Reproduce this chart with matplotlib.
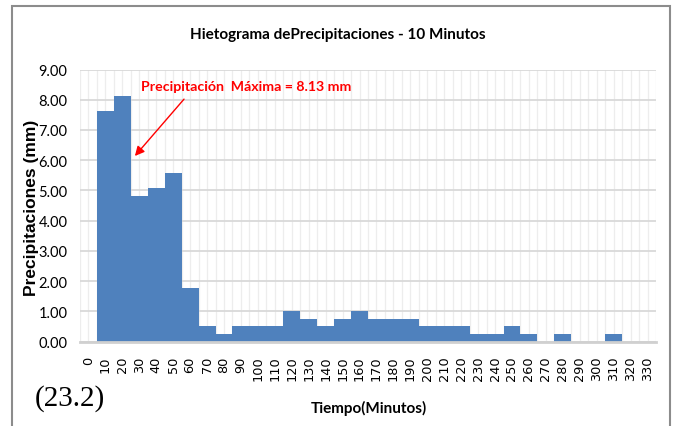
import matplotlib
matplotlib.use("Agg")
import matplotlib.pyplot as plt
from matplotlib.patches import Rectangle
import numpy as np

# Data
tiempo = list(range(0, 340, 10))
precip = [0.00, 7.62, 8.13, 4.83, 5.08, 5.59, 1.78, 0.51, 0.25, 0.51,
          0.51, 0.51, 1.02, 0.76, 0.51, 0.76, 1.02, 0.76, 0.76, 0.76,
          0.51, 0.51, 0.51, 0.25, 0.25, 0.51, 0.25, 0.00, 0.25, 0.00,
          0.00, 0.25, 0.00, 0.00]
tick_labels = [str(t) for t in tiempo]
yticks = [0, 1, 2, 3, 4, 5, 6, 7, 8, 9]

CAL = ['Lato', 'Liberation Sans', 'DejaVu Sans']

fig = plt.figure(figsize=(6.73, 4.27), dpi=100)
ax = fig.add_axes([80/673, 1-342.7/427, (656-80)/673, (342.7-70.5)/427])

pos = np.arange(len(tiempo))
ax.bar(pos, precip, width=1.0, color='#4f81bd', edgecolor='none', zorder=3)

ax.set_xlim(-0.5, len(tiempo) - 0.5)
ax.set_ylim(0, 9)
ax.set_yticks(yticks)
ax.set_yticklabels([f"{v:.2f}" for v in yticks], family=CAL, fontsize=10.5)
ax.set_xticks(pos)
ax.set_xticklabels(tick_labels, rotation=90, family='DejaVu Sans', fontsize=9.3)
ax.set_xticks(np.arange(-0.5, len(tiempo), 1.0), minor=True)
ax.tick_params(axis='both', which='both', length=0)
ax.tick_params(axis='x', pad=10)
ax.tick_params(axis='y', pad=9)

ax.grid(axis='x', which='both', color='#ededed', lw=0.9, zorder=0)
ax.grid(axis='y', which='major', color='#d9d9d9', lw=1.3, zorder=1)

for s in ['top', 'right', 'left']:
    ax.spines[s].set_visible(False)
ax.spines['bottom'].set_color('#d0d0d0')
ax.spines['bottom'].set_linewidth(2)
ax.spines['bottom'].set_zorder(4)

fig.text(338/673, 1-35/427, 'Hietograma dePrecipitaciones - 10 Minutos',
         ha='center', va='center', family=CAL, fontweight='bold', fontsize=11)
fig.text(369/673, 1-408/427, 'Tiempo(Minutos)', ha='center', va='center',
         family=CAL, fontweight='bold', fontsize=11)
fig.text(32/673, 1-208/427, 'Precipitaciones (mm)', ha='center', va='center',
         rotation=90, family=['Liberation Sans', 'DejaVu Sans'], fontweight='bold', fontsize=12.5)
fig.text(70/673, 1-399/427, '(23.2)', ha='center', va='center',
         family=['Liberation Serif', 'DejaVu Serif'], fontsize=21)

ax.annotate('', xy=(2.74, 6.14), xytext=(5.64, 8.02),
            arrowprops=dict(arrowstyle='-|>', color='#ff0000', lw=1.0,
                            mutation_scale=14, shrinkA=0, shrinkB=0), zorder=5)
ax.text(9.3, 8.46, 'Precipitación  Máxima = 8.13 mm', ha='center', va='center',
        color='#ff0000', family=CAL, fontweight='bold', fontsize=10.2, zorder=5)

fig.patches.append(Rectangle((12/673, -0.02), (670-12)/673, (427-7)/427 + 0.02,
                             transform=fig.transFigure, fill=False,
                             edgecolor='#8c8c8c', lw=1.5))

fig.savefig('out.png', dpi=100)
